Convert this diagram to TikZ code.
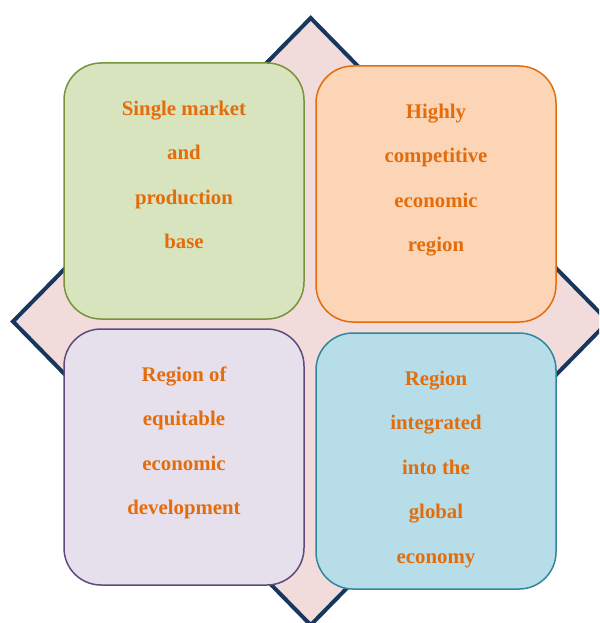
\documentclass[tikz,border=0pt]{standalone}
\usepackage{fontspec}
\setmainfont{Liberation Serif}
\definecolor{navy}{HTML}{17375E}
\definecolor{dpink}{HTML}{F2DCDB}
\definecolor{txtor}{HTML}{E46C0A}
\definecolor{gfill}{HTML}{D7E4BD}
\definecolor{gline}{HTML}{77933C}
\definecolor{ofill}{HTML}{FBD5B5}
\definecolor{oline}{HTML}{E46C0A}
\definecolor{pfill}{HTML}{E6E0EC}
\definecolor{pline}{HTML}{604A7B}
\definecolor{bfill}{HTML}{B7DEE8}
\definecolor{bline}{HTML}{31859C}
\tikzset{
  quad/.style={rounded corners=37pt, line width=1.5pt, minimum width=240pt, minimum height=256pt, inner sep=0pt},
  qtext/.style={inner sep=0pt, anchor=north, align=center, text=txtor, font=\fontsize{20.8}{44.5}\selectfont\bfseries},
}
\begin{document}
\begin{tikzpicture}[x=1pt,y=-1pt]
\useasboundingbox (0,0) rectangle (599,623);
\begin{scope}
\clip (0,0) rectangle (599,623);
\draw[navy, fill=dpink, line width=4pt, line join=miter]
  (310.7,18) -- (608.4,321.5) -- (310.7,625) -- (13,321.5) -- cycle;
\end{scope}
\node[quad, draw=gline, fill=gfill] (g) at (184,191) {};
\node[quad, draw=oline, fill=ofill] (o) at (436,194) {};
\node[quad, draw=pline, fill=pfill] (p) at (184,457) {};
\node[quad, draw=bline, fill=bfill] (b) at (436,461) {};
\node[qtext] (gt) at (184,100.5) {Single market\\and\\production\\base};
\node[qtext] (ot) at (436,103.5) {Highly\\competitive\\economic\\region};
\node[qtext] (pt) at (184,366.5) {Region of\\equitable\\economic\\development};
\node[qtext] (bt) at (436,370.5) {Region\\integrated\\into the\\global\\economy};
\end{tikzpicture}
\end{document}
